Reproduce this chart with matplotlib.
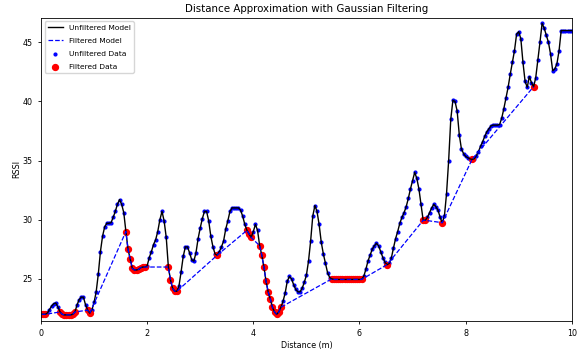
import numpy as np
import matplotlib
matplotlib.use('Agg')
import matplotlib.pyplot as plt

# Distance grid (m), one reading every 4 cm
distance = np.linspace(0, 10, 251)

# RSSI readings, 10 per row
rssi = [
    22.0, 22.0, 22.0, 22.1, 22.4, 22.7, 22.9, 22.95, 22.6, 22.2,
    22.0, 21.95, 21.95, 21.95, 21.95, 22.0, 22.2, 22.8, 23.25, 23.45,
    23.45, 22.8, 22.35, 22.1, 22.4, 23.0, 23.9, 25.4, 27.3, 28.6,
    29.4, 29.7, 29.7, 29.75, 30.2, 30.7, 31.3, 31.7, 31.3, 30.6,
    29.0, 27.5, 26.7, 25.9, 25.75, 25.75, 25.8, 25.95, 26.0, 26.0,
    26.1, 26.8, 27.3, 27.9, 28.3, 29.0, 30.0, 30.7, 29.9, 28.5,
    26.0, 24.9, 24.2, 23.95, 23.95, 24.4, 25.6, 26.9, 27.7, 27.7,
    27.2, 26.6, 26.5, 27.2, 28.4, 29.3, 30.1, 30.7, 30.7, 29.9,
    28.6, 27.7, 27.1, 27.0, 27.3, 27.7, 28.2, 29.2, 29.9, 30.7,
    31.0, 31.0, 31.0, 31.0, 30.8, 30.3, 29.6, 29.1, 28.8, 28.5,
    29.0, 29.6, 29.1, 27.8, 27.0, 26.0, 24.8, 23.9, 23.3, 22.6,
    22.2, 22.0, 22.2, 22.6, 23.1, 23.8, 24.8, 25.2, 25.0, 24.5,
    24.1, 23.9, 23.9, 24.2, 24.7, 25.3, 26.5, 28.2, 30.3, 31.2,
    30.7, 29.6, 28.1, 27.1, 26.3, 25.5, 25.1, 25.0, 24.95, 24.95,
    24.95, 24.95, 24.95, 24.95, 24.95, 24.95, 24.95, 24.95, 24.95, 24.95,
    24.95, 24.95, 25.2, 25.8, 26.5, 27.0, 27.5, 27.8, 28.0, 27.8,
    27.3, 26.8, 26.4, 26.2, 26.3, 26.75, 27.6, 28.4, 29.0, 29.7,
    30.2, 30.6, 31.1, 31.8, 32.6, 33.3, 34.0, 33.5, 32.6, 31.3,
    29.95, 29.95, 30.2, 30.6, 31.0, 31.3, 31.1, 30.8, 30.2, 29.75,
    30.3, 32.2, 35.0, 38.5, 40.1, 40.0, 39.2, 37.2, 36.0, 35.6,
    35.35, 35.25, 35.15, 35.1, 35.15, 35.4, 35.75, 36.2, 36.6, 37.05,
    37.45, 37.7, 37.95, 38.0, 38.0, 38.0, 38.05, 38.6, 39.4, 40.3,
    41.2, 42.3, 43.3, 44.3, 45.7, 45.9, 45.3, 43.3, 41.7, 41.2,
    42.1, 41.6, 41.25, 42.0, 43.5, 45.0, 46.6, 46.2, 45.6, 45.0,
    44.0, 42.6, 42.75, 43.2, 44.3, 46.0, 46.0, 46.0, 46.0, 46.0,
    46.0,
]

# indices of the readings kept by the filter
filtered_idx = (
    [0, 1, 2] + list(range(9, 17)) + [22, 23] + list(range(40, 50))
    + list(range(60, 65)) + [83] + [97, 98, 99] + list(range(103, 114))
    + list(range(137, 152)) + [163] + [180, 181] + [189] + [203] + [232]
)

rssi = np.array(rssi)
filt_dist = distance[filtered_idx]
filt_rssi = rssi[filtered_idx]

fig, ax = plt.subplots(figsize=(5.77, 3.51), dpi=100)
fig.subplots_adjust(left=0.071, right=0.991, top=0.95, bottom=0.086)

ax.plot(distance, rssi, 'k-', lw=1.0, label='Unfiltered Model')
ax.plot(filt_dist, filt_rssi, 'b--', lw=0.9, label='Filtered Model')
ax.scatter(distance, rssi, c='b', s=4, label='Unfiltered Data')
ax.scatter(filt_dist, filt_rssi, c='r', s=18, label='Filtered Data')

ax.set_xlim(0, 10)
ax.set_ylim(21.45, 47.1)
ax.set_xticks([0, 2, 4, 6, 8, 10])
ax.set_yticks([25, 30, 35, 40, 45])
ax.tick_params(labelsize=5.8, length=2.5, width=0.6)
for s in ax.spines.values():
    s.set_linewidth(0.6)

ax.set_xlabel('Distance (m)', fontsize=5.8, labelpad=2)
ax.set_ylabel('RSSI', fontsize=5.8, labelpad=1)
ax.set_title('Distance Approximation with Gaussian Filtering', fontsize=7.4, pad=4)
ax.legend(loc='upper left', fontsize=5.4, labelspacing=0.9, borderaxespad=0.5)

fig.savefig('out.png', dpi=100)
